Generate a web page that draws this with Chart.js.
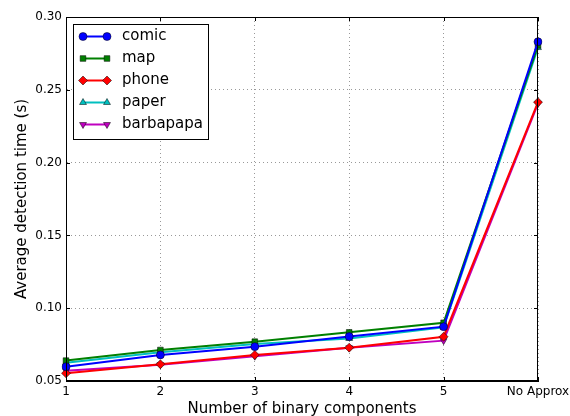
<!DOCTYPE html>
<html>
<head>
<meta charset="utf-8">
<script src="https://cdn.jsdelivr.net/npm/chart.js@4/dist/chart.umd.min.js"></script>
<style>
  html, body { margin: 0; padding: 0; background: #fff; }
  #wrap { width: 570px; height: 416px; }
</style>
</head>
<body>
<div id="wrap"><canvas id="chart"></canvas></div>
<script>
// categories on the x axis
const categories = ['1', '2', '3', '4', '5', 'No Approx'];

// average detection time per series
const comic = [0.0598, 0.0679, 0.0736, 0.0805, 0.0873, 0.2830];
const map = [0.0640, 0.0713, 0.0770, 0.0834, 0.0900, 0.2805];
const phone = [0.0553, 0.0615, 0.0679, 0.0729, 0.0804, 0.2415];
const paper = [0.0626, 0.0697, 0.0754, 0.0792, 0.0869, 0.2790];
const barbapapa = [0.0570, 0.0612, 0.0670, 0.0728, 0.0777, 0.2405];

const seriesNames = ['comic', 'map', 'phone', 'paper', 'barbapapa'];
const seriesValues = [comic, map, phone, paper, barbapapa];
const seriesColors = ['#0000ff', '#008000', '#ff0000', '#00bfbf', '#bf00bf'];
const seriesMarkers = ['circle', 'rect', 'rectRot', 'triangle', 'triangle'];
const seriesRotation = [0, 0, 0, 0, 180];

const FONT = 'DejaVu Sans';

function markerRadius(i) {
  return seriesMarkers[i] === 'rectRot' ? 4.5 : 4;
}

const datasets = seriesNames.map((name, i) => ({
  label: name,
  data: seriesValues[i],
  borderColor: seriesColors[i],
  backgroundColor: seriesColors[i],
  borderWidth: 2,
  pointStyle: seriesMarkers[i],
  rotation: seriesRotation[i],
  pointRadius: markerRadius(i),
  pointBorderColor: '#000',
  pointBorderWidth: 0.5,
  pointBackgroundColor: seriesColors[i],
  tension: 0,
  fill: false
}));

// frame, inward ticks and the legend box inside the plot
const framePlugin = {
  id: 'frame',
  afterDatasetsDraw(chart) {
    const ctx = chart.ctx;
    const a = chart.chartArea;
    ctx.save();
    ctx.strokeStyle = '#000';
    ctx.lineWidth = 1;
    ctx.strokeRect(Math.round(a.left) + 0.5, Math.round(a.top) + 0.5,
      Math.round(a.right - a.left) - 1, Math.round(a.bottom - a.top) - 1);

    // inward ticks
    const xs = chart.scales.x, ys = chart.scales.y;
    ctx.beginPath();
    xs.ticks.forEach((t, i) => {
      const px = Math.round(xs.getPixelForTick(i)) + 0.5;
      ctx.moveTo(px, a.bottom); ctx.lineTo(px, a.bottom - 4);
      ctx.moveTo(px, a.top); ctx.lineTo(px, a.top + 4);
    });
    ys.ticks.forEach((t, i) => {
      const py = Math.round(ys.getPixelForTick(i)) + 0.5;
      ctx.moveTo(a.left, py); ctx.lineTo(a.left + 4, py);
      ctx.moveTo(a.right, py); ctx.lineTo(a.right - 4, py);
    });
    ctx.stroke();

    // legend
    const bx = 73, by = 24, bw = 135, bh = 115;
    ctx.fillStyle = '#fff';
    ctx.fillRect(bx, by, bw, bh);
    ctx.strokeStyle = '#000';
    ctx.lineWidth = 1;
    ctx.strokeRect(bx + 0.5, by + 0.5, bw, bh);
    ctx.font = '15px "' + FONT + '"';
    ctx.textBaseline = 'middle';
    seriesNames.forEach((name, i) => {
      const y = 36.5 + i * 22;
      ctx.strokeStyle = seriesColors[i];
      ctx.lineWidth = 2;
      ctx.beginPath();
      ctx.moveTo(83, y); ctx.lineTo(107, y);
      ctx.stroke();
      [83, 107].forEach(x => {
        ctx.fillStyle = seriesColors[i];
        ctx.strokeStyle = '#000';
        ctx.lineWidth = 0.5;
        Chart.helpers.drawPoint(ctx, {
          pointStyle: seriesMarkers[i],
          rotation: seriesRotation[i],
          radius: markerRadius(i),
          borderWidth: 0.5
        }, x, y);
      });
      ctx.fillStyle = '#000';
      ctx.fillText(name, 122, y);
    });
    ctx.restore();
  }
};

new Chart(document.getElementById('chart').getContext('2d'), {
  type: 'line',
  data: { labels: categories, datasets: datasets },
  options: {
    responsive: true,
    maintainAspectRatio: false,
    animation: false,
    layout: { padding: { top: 17, right: 32, left: 0, bottom: 0 } },
    plugins: {
      legend: { display: false },
      tooltip: { enabled: false }
    },
    scales: {
      x: {
        offset: false,
        grid: { color: '#999', lineWidth: 1, drawTicks: false },
        border: { color: '#000', width: 1, dash: [1, 3] },
        ticks: {
          color: '#000', font: { family: FONT, size: 12 }, padding: 4,
          maxRotation: 0, autoSkip: false
        },
        title: {
          display: true, text: 'Number of binary components', color: '#000',
          font: { family: FONT, size: 15, lineHeight: 0.9 }, padding: { top: 0, bottom: 0 }
        },
        afterFit(scale) {
          scale.height = 35;
          scale.paddingLeft = 0;
          scale.paddingRight = 0;
        }
      },
      y: {
        min: 0.05, max: 0.30,
        grid: { color: '#999', lineWidth: 1, drawTicks: false },
        border: { color: '#000', width: 1, dash: [1, 3] },
        ticks: {
          stepSize: 0.05, color: '#000', font: { family: FONT, size: 12 }, padding: 4,
          callback: v => v.toFixed(2)
        },
        title: {
          display: true, text: 'Average detection time (s)', color: '#000',
          font: { family: FONT, size: 15, lineHeight: 1.2 }, padding: { top: 13, bottom: 0 }
        },
        afterFit(scale) {
          scale.width = 66;
          scale.paddingTop = 0;
          scale.paddingBottom = 0;
        }
      }
    }
  },
  plugins: [framePlugin]
});
</script>
</body>
</html>
